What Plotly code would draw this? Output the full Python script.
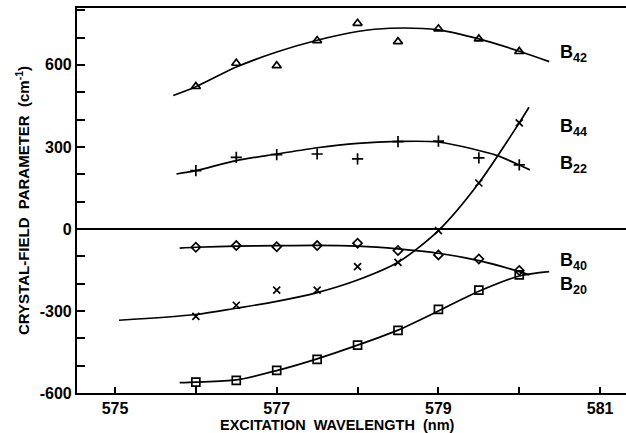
import plotly.graph_objects as go

# Excitation wavelengths (nm) at which the parameters were measured
wavelength = [576.0, 576.5, 577.0, 577.5, 578.0, 578.5, 579.0, 579.5, 580.0]

# Measured crystal-field parameters (cm^-1)
b42 = [521, 606, 597, 689, 752, 685, 732, 695, 649]
b22 = [213, 262, 272, 274, 256, 319, 321, 260, 234]
b44 = [-320, -279, -224, -224, -138, -122, -6, 168, 388]
b40 = [-67, -61, -65, -61, -52, -79, -95, -110, -152]
b20 = [-560, -554, -517, -477, -425, -371, -294, -224, -168]

# Smooth guide curves through each data set
b42_curve_x = [575.72, 576.0, 576.5, 577.0, 577.5, 578.0, 578.4, 579.0, 579.5, 580.0, 580.37]
b42_curve_y = [488, 520, 592, 647, 690, 722, 734, 728, 695, 650, 612]
b22_curve_x = [575.76, 576.0, 576.5, 577.0, 577.5, 578.0, 578.5, 579.0, 579.5, 579.73, 580.0, 580.13]
b22_curve_y = [201, 213, 250, 274, 297, 313, 320, 318, 287, 268, 234, 216]
b44_curve_x = [575.05, 576.0, 576.5, 577.0, 577.5, 578.0, 578.5, 579.0, 579.5, 580.0, 580.12]
b44_curve_y = [-334, -313, -290, -265, -233, -187, -122, -6, 168, 388, 445]
b40_curve_x = [575.8, 576.0, 576.5, 577.0, 577.5, 578.0, 578.5, 579.0, 579.5, 580.0, 580.12]
b40_curve_y = [-70, -67, -63, -61, -60, -63, -73, -89, -116, -156, -168]
b20_curve_x = [575.8, 576.0, 576.5, 577.0, 577.5, 578.0, 578.5, 579.0, 579.5, 580.0, 580.37]
b20_curve_y = [-562, -560, -552, -518, -475, -425, -370, -300, -228, -172, -156]

# Series labels and where they sit (left edge, vertical centre)
label_names = ["42", "44", "22", "40", "20"]
label_x = [580.48, 580.48, 580.48, 580.48, 580.48]
label_y = [641, 372, 236, -118, -208]

x_ticks = [575, 576, 577, 578, 579, 580, 581]
x_ticktext = ["575", "", "577", "", "579", "", "581"]
y_ticks = list(range(-600, 801, 100))
y_ticktext = [str(v) if v % 300 == 0 else "" for v in y_ticks]

FONT = "Liberation Sans"
INK = "black"

series = [
    (wavelength, b42, b42_curve_x, b42_curve_y, "triangle-up-open", 8),
    (wavelength, b22, b22_curve_x, b22_curve_y, "cross-thin-open", 8),
    (wavelength, b44, b44_curve_x, b44_curve_y, "x-thin-open", 7),
    (wavelength, b40, b40_curve_x, b40_curve_y, "diamond-open", 7),
    (wavelength, b20, b20_curve_x, b20_curve_y, "square-open", 8),
]

fig = go.Figure()
for xs, ys, cx, cy, sym, size in series:
    fig.add_trace(go.Scatter(
        x=cx, y=cy, mode="lines",
        line=dict(color=INK, width=1.7, shape="spline", smoothing=0.8),
        hoverinfo="skip", showlegend=False))
    fig.add_trace(go.Scatter(
        x=xs, y=ys, mode="markers",
        marker=dict(symbol=sym, size=size, color=INK, line=dict(color=INK, width=1.7)),
        showlegend=False))

for name, lx, ly in zip(label_names, label_x, label_y):
    fig.add_annotation(
        x=lx, y=ly, xref="x", yref="y", xanchor="left", yanchor="middle",
        text=f"<b>B<sub>{name}</sub></b>", showarrow=False,
        font=dict(family=FONT, size=18, color=INK))

fig.add_annotation(
    x=577.75, y=0, xref="x", yref="paper", yanchor="middle", yshift=-32,
    text="<b>EXCITATION  WAVELENGTH  (nm)</b>", showarrow=False,
    font=dict(family=FONT, size=14.5, color=INK))

fig.update_layout(
    width=626, height=433,
    margin=dict(l=77, r=0, t=8, b=40),
    paper_bgcolor="white", plot_bgcolor="white",
    font=dict(family=FONT, color=INK),
    showlegend=False,
    xaxis=dict(
        range=[574.53, 581.32], tickvals=x_ticks, ticktext=x_ticktext,
        ticks="inside", ticklen=6, tickwidth=1.6, tickcolor=INK,
        showline=True, linewidth=2.2, linecolor=INK, mirror=True,
        showgrid=False, zeroline=False,
        tickfont=dict(family=FONT, size=16, color=INK, weight="bold"),
    ),
    yaxis=dict(
        range=[-600, 808], tickvals=y_ticks, ticktext=y_ticktext,
        ticks="inside", ticklen=8, tickwidth=1.6, tickcolor=INK,
        showline=True, linewidth=2.2, linecolor=INK, mirror=False,
        showgrid=False, zeroline=True, zerolinecolor=INK, zerolinewidth=2.2,
        tickfont=dict(family=FONT, size=16, color=INK, weight="bold"),
        title=dict(text="<b>CRYSTAL-FIELD  PARAMETER  (cm<sup>-1</sup>)</b>",
                   font=dict(family=FONT, size=15, color=INK), standoff=6),
    ),
)

fig.write_html("out.html")
